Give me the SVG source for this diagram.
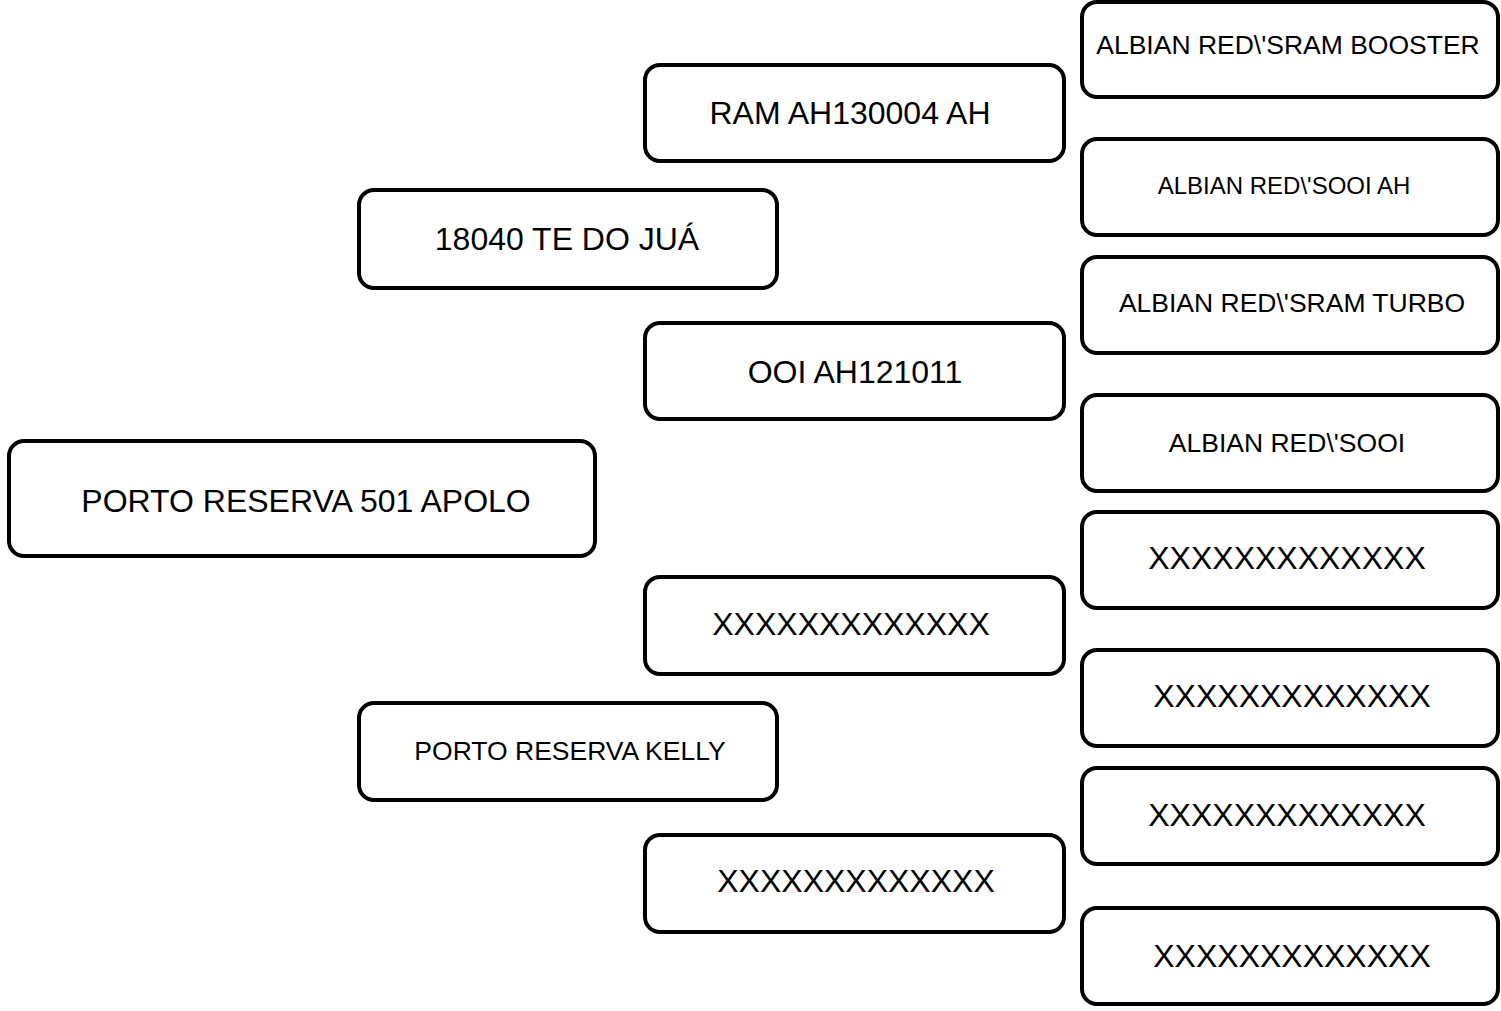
<svg xmlns="http://www.w3.org/2000/svg" width="1501" height="1011" viewBox="0 0 1501 1011">
<style>
.box{fill:#fff;stroke:#000;stroke-width:4}
.t{font-family:"Liberation Sans",Arial,sans-serif;fill:#000;text-anchor:middle}
.l{font-size:32px}
.m{font-size:26.5px}
.s{font-size:24px}
</style>
<rect width="1501" height="1011" fill="#fff"/>
<g id="connectors"></g>
<g id="n-apolo"><rect class="box" x="9" y="441" width="586" height="115" rx="15"/><text class="t l" x="306" y="511.5">PORTO RESERVA 501 APOLO</text></g>
<g id="n-18040"><rect class="box" x="359" y="190" width="418" height="98" rx="15"/><text class="t l" x="567" y="249.5">18040 TE DO JUÁ</text></g>
<g id="n-kelly"><rect class="box" x="359" y="703" width="418" height="97" rx="15"/><text class="t m" x="570" y="759.5">PORTO RESERVA KELLY</text></g>
<g id="n-ram"><rect class="box" x="645" y="65" width="419" height="96" rx="15"/><text class="t l" x="850" y="123.5">RAM AH130004 AH</text></g>
<g id="n-ooi"><rect class="box" x="645" y="323" width="419" height="96" rx="15"/><text class="t l" x="855" y="382.5">OOI AH121011</text></g>
<g id="n-x1"><rect class="box" x="645" y="577" width="419" height="97" rx="15"/><text class="t l" x="851" y="634.5">XXXXXXXXXXXXX</text></g>
<g id="n-x2"><rect class="box" x="645" y="835" width="419" height="97" rx="15"/><text class="t l" x="856" y="891.5">XXXXXXXXXXXXX</text></g>
<g id="n-r1"><rect class="box" x="1082" y="2" width="416" height="95" rx="15"/><text class="t m" x="1288" y="53.5">ALBIAN RED\'SRAM BOOSTER</text></g>
<g id="n-r2"><rect class="box" x="1082" y="139" width="416" height="96" rx="15"/><text class="t s" x="1284" y="193.6">ALBIAN RED\'SOOI AH</text></g>
<g id="n-r3"><rect class="box" x="1082" y="257" width="416" height="96" rx="15"/><text class="t m" x="1292" y="311.5">ALBIAN RED\'SRAM TURBO</text></g>
<g id="n-r4"><rect class="box" x="1082" y="395" width="416" height="96" rx="15"/><text class="t m" x="1287" y="451.5">ALBIAN RED\'SOOI</text></g>
<g id="n-r5"><rect class="box" x="1082" y="512" width="416" height="96" rx="15"/><text class="t l" x="1287" y="568.5">XXXXXXXXXXXXX</text></g>
<g id="n-r6"><rect class="box" x="1082" y="650" width="416" height="96" rx="15"/><text class="t l" x="1292" y="706.5">XXXXXXXXXXXXX</text></g>
<g id="n-r7"><rect class="box" x="1082" y="768" width="416" height="96" rx="15"/><text class="t l" x="1287" y="825.5">XXXXXXXXXXXXX</text></g>
<g id="n-r8"><rect class="box" x="1082" y="908" width="416" height="96" rx="15"/><text class="t l" x="1292" y="966.5">XXXXXXXXXXXXX</text></g>
</svg>
